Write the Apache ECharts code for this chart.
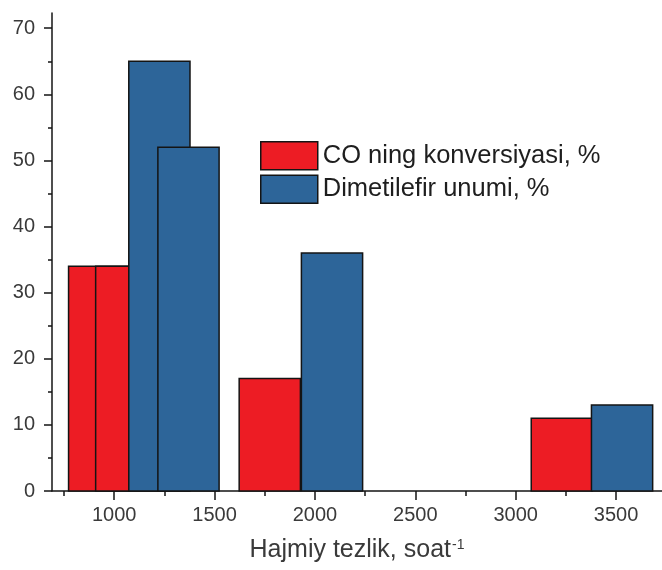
<!DOCTYPE html>
<html>
<head>
<meta charset="utf-8">
<style>
  html, body { margin: 0; padding: 0; background: #fff; }
  #chart { width: 662px; height: 570px; }
</style>
<script src="https://cdn.jsdelivr.net/npm/echarts@6/dist/echarts.min.js"></script>
</head>
<body>
<div id="chart"></div>
<script>
// Space velocity (soat^-1) at each bar centre, and the measured percentages
const coSpeeds = [925, 1060, 1775, 3230];
const coConversion = [34, 34, 17, 11];
const dmeSpeeds = [1225, 1370, 2085, 3530];
const dmeYield = [65, 52, 36, 13];

// Axis ticks
const xMajorTicks = [1000, 1500, 2000, 2500, 3000, 3500];
const xMinorTicks = [750, 1250, 1750, 2250, 2750, 3250];
const yMajorTicks = [0, 10, 20, 30, 40, 50, 60, 70];
const yMinorTicks = [5, 15, 25, 35, 45, 55, 65];

const seriesNames = ['CO ning konversiyasi, %', 'Dimetilefir unumi, %'];

// Bar width in space-velocity units
const BAR_SPAN = 305;
const X_MIN = 690, X_MAX = 3729;
const Y_MIN = 0, Y_MAX = 72.3;

const RED = '#ED1C24';
const BLUE = '#2D6599';
const EDGE = '#141414';
const FONT = 'Liberation Sans, Arial, sans-serif';

function pairs(xs, ys) { return xs.map((x, i) => [x, ys[i]]); }

function columnRenderer(fill) {
  return function (params, api) {
    const x = api.value(0), y = api.value(1);
    const a = api.coord([x - BAR_SPAN / 2, y]);
    const b = api.coord([x + BAR_SPAN / 2, 0]);
    return {
      type: 'rect',
      shape: { x: a[0], y: a[1], width: b[0] - a[0], height: b[1] - a[1] },
      style: { fill: fill, stroke: EDGE, lineWidth: 1.5 }
    };
  };
}

const plainNumber = v => String(v);

const chart = echarts.init(document.getElementById('chart'), null, { renderer: 'canvas' });

const baseValueAxis = {
  type: 'value',
  splitLine: { show: false },
  axisLine: { show: true, lineStyle: { color: EDGE, width: 1.5 } }
};

chart.setOption({
  animation: false,
  backgroundColor: '#ffffff',
  grid: { left: 52, right: 0, top: 13, bottom: 79, containLabel: false },
  legend: {
    orient: 'vertical',
    left: 260,
    top: 141,
    padding: 0,
    itemWidth: 57,
    itemHeight: 28,
    itemGap: 4,
    icon: 'rect',
    data: [
      { name: seriesNames[0], itemStyle: { color: RED, borderColor: EDGE, borderWidth: 1.5 } },
      { name: seriesNames[1], itemStyle: { color: BLUE, borderColor: EDGE, borderWidth: 1.5 } }
    ],
    textStyle: { fontFamily: FONT, fontSize: 25.5, color: '#1e1e1e' }
  },
  xAxis: [
    Object.assign({}, baseValueAxis, {
      min: X_MIN, max: X_MAX,
      position: 'bottom',
      axisTick: { show: true, inside: false, length: 9, customValues: xMajorTicks,
                  lineStyle: { color: EDGE, width: 1.5 } },
      axisLabel: { show: true, customValues: xMajorTicks, margin: 14, formatter: plainNumber,
                   fontFamily: FONT, fontSize: 20, color: '#3a3a3a' },
      name: '{main|Hajmiy tezlik, soat}{sup|-1}',
      nameLocation: 'middle',
      nameGap: 47,
      nameTextStyle: {
        fontFamily: FONT, color: '#3a3a3a',
        rich: {
          main: { fontFamily: FONT, fontSize: 25, color: '#3a3a3a' },
          sup: { fontFamily: FONT, fontSize: 14, color: '#3a3a3a', verticalAlign: 'top', padding: [0, 0, 10, 1] }
        }
      }
    }),
    Object.assign({}, baseValueAxis, {
      min: X_MIN, max: X_MAX,
      position: 'bottom',
      axisLine: { show: false },
      axisTick: { show: true, inside: false, length: 5, customValues: xMinorTicks,
                  lineStyle: { color: EDGE, width: 1.5 } },
      axisLabel: { show: false }
    })
  ],
  yAxis: [
    Object.assign({}, baseValueAxis, {
      min: Y_MIN, max: Y_MAX,
      position: 'left',
      axisTick: { show: true, inside: false, length: 8, customValues: yMajorTicks,
                  lineStyle: { color: EDGE, width: 1.5 } },
      axisLabel: { show: true, customValues: yMajorTicks, margin: 17, formatter: plainNumber,
                   fontFamily: FONT, fontSize: 20, color: '#3a3a3a' }
    }),
    Object.assign({}, baseValueAxis, {
      min: Y_MIN, max: Y_MAX,
      position: 'left',
      axisLine: { show: false },
      axisTick: { show: true, inside: false, length: 4, customValues: yMinorTicks,
                  lineStyle: { color: EDGE, width: 1.5 } },
      axisLabel: { show: false }
    })
  ],
  series: [
    {
      name: seriesNames[0],
      type: 'custom',
      xAxisIndex: 0, yAxisIndex: 0,
      itemStyle: { color: RED, borderColor: EDGE, borderWidth: 1.5 },
      renderItem: columnRenderer(RED),
      encode: { x: 0, y: 1 },
      data: pairs(coSpeeds, coConversion),
      z: 2
    },
    {
      name: seriesNames[1],
      type: 'custom',
      xAxisIndex: 0, yAxisIndex: 0,
      itemStyle: { color: BLUE, borderColor: EDGE, borderWidth: 1.5 },
      renderItem: columnRenderer(BLUE),
      encode: { x: 0, y: 1 },
      data: pairs(dmeSpeeds, dmeYield),
      z: 3
    }
  ]
});
</script>
</body>
</html>
